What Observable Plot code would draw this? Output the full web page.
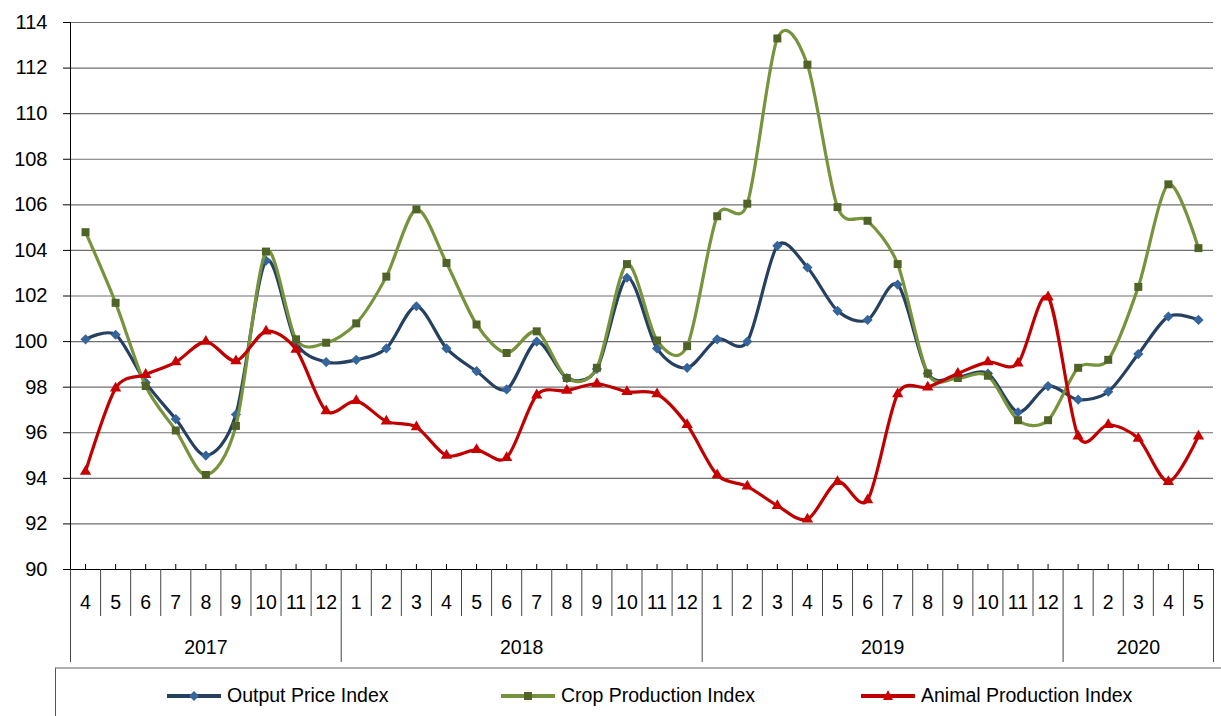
<!DOCTYPE html>
<html>
<head>
<meta charset="utf-8">
<script src="https://cdn.jsdelivr.net/npm/d3@7"></script>
<script src="https://cdn.jsdelivr.net/npm/@observablehq/plot@0.6"></script>
<style>
  html, body { margin: 0; padding: 0; background: #fff; }
  #wrap { position: relative; width: 1221px; height: 716px; background: #fff; font-family: "Liberation Sans", Arial, sans-serif; }
  #chart svg { display: block; }
  #legend { position: absolute; left: 55px; top: 667px; width: 1166px; height: 49px; border-top: 2px solid #b0b0b0; border-left: 1px solid #555; box-sizing: border-box; }
  .item { position: absolute; top: 3px; height: 47px; display: flex; align-items: center; font-size: 19.5px; color: #000; white-space: nowrap; }
  .item svg { margin-right: 6px; }
</style>
</head>
<body>
<div id="wrap">
  <div id="chart"></div>
  <div id="legend"></div>
</div>
<script>
// ---- data ----
const months = [4,5,6,7,8,9,10,11,12, 1,2,3,4,5,6,7,8,9,10,11,12, 1,2,3,4,5,6,7,8,9,10,11,12, 1,2,3,4,5];
const yearLabels = ["2017", "2018", "2019", "2020"];
const outputPrice = [100.1,100.3,98.2,96.6,95.0,96.8,103.55,99.95,99.1,
  99.2,99.7,101.55,99.7,98.7,97.9,100.0,98.4,98.8,102.8,99.7,98.85,
  100.1,100.0,104.2,103.25,101.35,100.95,102.5,98.6,98.45,98.6,96.9,98.05,
  97.45,97.8,99.45,101.1,100.95];
const cropProduction = [104.8,101.7,98.05,96.1,94.15,96.3,103.95,100.1,99.95,
  100.8,102.85,105.8,103.45,100.75,99.5,100.45,98.4,98.85,103.4,100.05,99.8,
  105.5,106.05,113.3,112.15,105.9,105.3,103.4,98.6,98.4,98.5,96.55,96.55,
  98.85,99.2,102.4,106.9,104.1];
const animalProduction = [94.3,97.95,98.55,99.1,100.0,99.15,100.45,99.65,96.95,
  97.4,96.5,96.25,95.0,95.25,94.9,97.65,97.85,98.15,97.8,97.7,96.35,
  94.15,93.65,92.8,92.2,93.85,93.05,97.7,98.0,98.6,99.1,99.05,101.95,
  95.85,96.35,95.75,93.85,95.85];
const seriesNames = ["Output Price Index", "Crop Production Index", "Animal Production Index"];
const yTicks = d3.range(90, 115, 2);

// ---- styles ----
const styles = [
  {line: "#254061", marker: "#36659c", symbol: "diamond2", r: 4.6},
  {line: "#77933c", marker: "#4f6228", symbol: "square", r: 4.5},
  {line: "#c00000", marker: "#c80000", symbol: "triangle", r: 4.2}
];
const seriesValues = [outputPrice, cropProduction, animalProduction];
const FONT = "Liberation Sans, Arial, sans-serif";
const FS = 19.5;

const n = months.length;
const idx = d3.range(n);
const yMin = yTicks[0], yMax = yTicks[yTicks.length - 1];

// year spans derived from month sequence
const yearStarts = idx.filter(i => i === 0 || months[i] === 1);
const yearSpans = yearStarts.map((s, k) => ({label: yearLabels[k], start: s, end: k + 1 < yearStarts.length ? yearStarts[k + 1] : n}));
const yearBounds = new Set(yearSpans.flatMap(d => [d.start, d.end]));
const bounds = d3.range(n + 1);

const marks = [
  Plot.gridY(yTicks, {stroke: "#6f6f6f", strokeOpacity: 1, strokeWidth: 1.2}),
  Plot.axisY(yTicks, {tickSize: 7, tickPadding: 16, fontSize: FS + 0.5, fontFamily: FONT, stroke: "#000"}),
  Plot.frame({anchor: "left", stroke: "#000"}),
  Plot.frame({anchor: "bottom", stroke: "#000"}),
  // small upward ticks at category centres
  Plot.ruleX(idx, {x: i => i + 0.5, y1: () => yMin, y2: () => yMin, insetTop: -5, stroke: "#000"}),
  // month separators
  Plot.ruleX(bounds.filter(b => !yearBounds.has(b)), {x: b => b, y1: () => yMin, y2: () => yMin, insetBottom: -47, stroke: "#444"}),
  // year separators
  Plot.ruleX(bounds.filter(b => yearBounds.has(b)), {x: b => b, y1: () => yMin, y2: () => yMin, insetBottom: -93, stroke: "#444"}),
  Plot.text(idx, {x: i => i + 0.5, y: () => yMin, dy: 33, text: i => String(months[i]), fontSize: FS, fontFamily: FONT, fill: "#000"}),
  Plot.text(yearSpans, {x: d => (d.start + d.end) / 2, y: () => yMin, dy: 78, text: d => d.label, fontSize: FS, fontFamily: FONT, fill: "#000"})
];

seriesValues.forEach((vals, s) => {
  const st = styles[s];
  marks.push(Plot.line(vals, {x: (d, i) => i + 0.5, y: d => d, stroke: st.line, strokeWidth: 3.2, curve: "cardinal", tension: 0.12}));
  marks.push(Plot.dot(vals, {x: (d, i) => i + 0.5, y: d => d, symbol: st.symbol, r: st.r, fill: st.marker, stroke: "none"}));
});

const chart = Plot.plot({
  width: 1221,
  height: 667,
  marginLeft: 70,
  marginRight: 8,
  marginTop: 22,
  marginBottom: 98,
  style: {fontFamily: FONT, fontSize: FS + "px", background: "#fff", overflow: "visible"},
  x: {type: "linear", domain: [0, n], axis: null},
  y: {domain: [yMin, yMax], axis: null},
  marks
});
document.getElementById("chart").appendChild(chart);

// ---- legend ----
const legendPos = [111, 445, 805];
const legend = document.getElementById("legend");
seriesNames.forEach((name, s) => {
  const st = styles[s];
  const item = document.createElement("div");
  item.className = "item";
  item.style.left = legendPos[s] + "px";
  let sym = "";
  if (st.symbol === "diamond2") sym = `<polygon points="27,1 32,6 27,11 22,6" fill="${st.marker}"/>`;
  else if (st.symbol === "square") sym = `<rect x="23" y="2" width="8" height="8" fill="${st.marker}"/>`;
  else sym = `<polygon points="27,0 32,10 22,10" fill="${st.marker}"/>`;
  item.innerHTML = `<svg width="54" height="12"><line x1="0" y1="6" x2="54" y2="6" stroke="${st.line}" stroke-width="4"/>${sym}</svg><span>${name}</span>`;
  legend.appendChild(item);
});
</script>
</body>
</html>
